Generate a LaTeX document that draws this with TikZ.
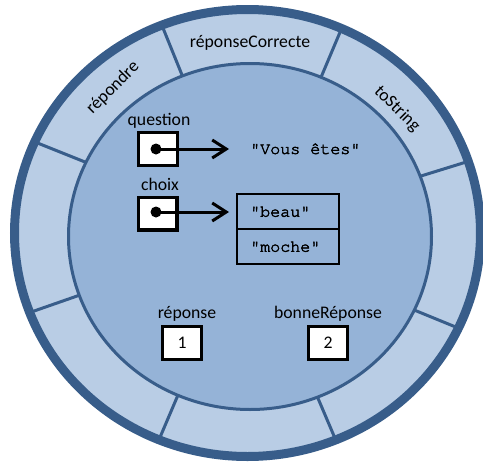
\documentclass[tikz,border=0pt]{standalone}
\usepackage{fontspec}
\setmainfont{Carlito}
\newfontfamily\codefont{texgyrecursor-regular.otf}[Ligatures=TeXOff,FakeBold=2.5]
\usetikzlibrary{arrows.meta}
\definecolor{ringfill}{HTML}{B9CDE5}
\definecolor{corefill}{HTML}{95B3D7}
\definecolor{edgeblue}{HTML}{385D8A}
\begin{document}
\begin{tikzpicture}[x=1pt,y=-1pt,
  lbl/.style={font=\fontsize{17.7}{21}\selectfont, inner sep=0pt, anchor=base},
  code/.style={font=\codefont\fontsize{16.7}{19}\selectfont, inner sep=0pt, anchor=base west},
  varbox/.style={draw=black, line width=3.3pt, fill=white, minimum width=38.7pt, minimum height=32.7pt, inner sep=0pt, font=\fontsize{17.7}{21}\selectfont},
  cell/.style={draw=black, line width=1.3pt, minimum width=102pt, minimum height=35pt, inner sep=0pt},
  dot/.style={circle, fill=black, minimum size=11pt, inner sep=0pt},
  divider/.style={draw=edgeblue, line width=3pt, shorten <=-8pt, shorten >=-8pt},
  ref/.style={line width=3pt, -{Straight Barb[length=14pt,width=18pt]}},
]
\useasboundingbox (0,0) rectangle (483,464);
% ring
\fill[ringfill] (247.5,233) ellipse [x radius=233pt, y radius=223.5pt];
\begin{scope}
  \clip (247.5,233) ellipse [x radius=233pt, y radius=223.5pt];
  \draw[divider] (163,28) -- (180,70);
  \draw[divider] (338,37) -- (322,75);
  \draw[divider] (463,163) -- (421,176);
  \draw[divider] (463,330) -- (419,312);
  \draw[divider] (337,443) -- (320,403);
  \draw[divider] (161,435) -- (178,395);
  \draw[divider] (37,310) -- (80,295);
  \draw[divider] (35,142) -- (80,160);
\end{scope}
\filldraw[fill=corefill, draw=edgeblue, line width=3pt] (250,236.5) ellipse [x radius=181.5pt, y radius=173pt];
\draw[edgeblue, line width=9pt] (247.5,233) ellipse [x radius=233pt, y radius=223.5pt];
% ring labels
\node[lbl] (rc) at (250,47.7) {réponseCorrecte};
\node[lbl, rotate=45, anchor=center] (rep) at (113,88) {répondre};
\node[lbl, rotate=-45, anchor=center] (ts) at (397,109) {toString};
% question
\node[lbl] (qlbl) at (159,125) {question};
\node[varbox] (qbox) at (158,149) {};
\node[dot] (qdot) at (156,149) {};
\node[code] (qval) at (250,154) {"Vous êtes"};
\coordinate (qend) at (229,149);
\draw[ref] (qdot.center) -- (qend);
% choix
\node[lbl] (clbl) at (160,190) {choix};
\node[varbox] (cbox) at (157.5,213.5) {};
\node[dot] (cdot) at (156,212) {};
\node[cell] (c1) at (288,211.5) {};
\node[cell] (c2) at (288,246.5) {};
\node[code] (beau) at (250,216.7) {"beau"};
\node[code] (moche) at (250,251.7) {"moche"};
\coordinate (cend) at (229,212);
\draw[ref] (cdot.center) -- (cend);
% reponse
\node[lbl] (rlbl) at (187,318) {réponse};
\node[varbox] (rbox) at (182,343) {1};
\node[lbl] (blbl) at (328,318) {bonneRéponse};
\node[varbox] (bbox) at (328,343) {2};
\end{tikzpicture}
\end{document}
